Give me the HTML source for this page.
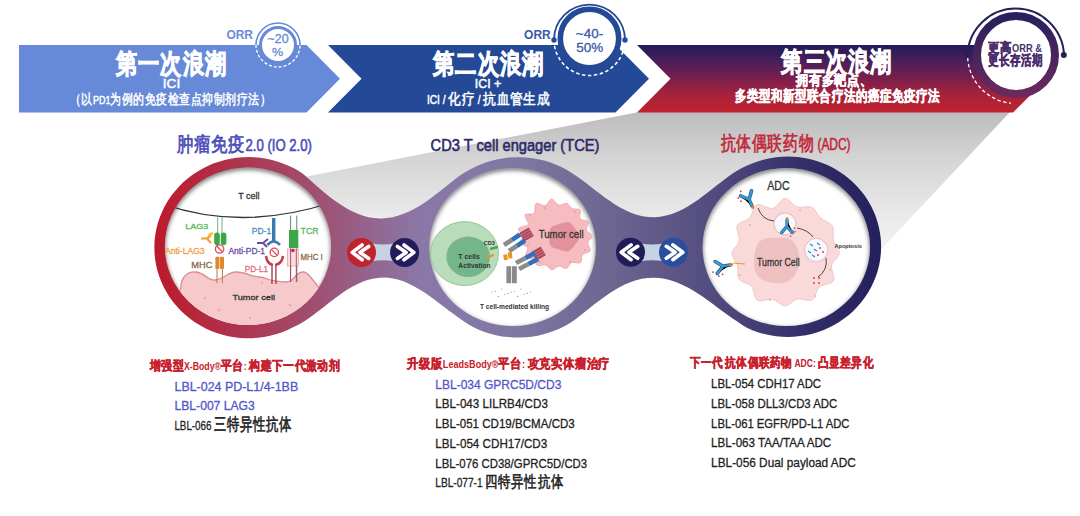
<!DOCTYPE html>
<html><head><meta charset="utf-8">
<style>
html,body{margin:0;padding:0;background:#fff;}
body{width:1080px;height:516px;overflow:hidden;position:relative;font-family:"Liberation Sans",sans-serif;}
svg{position:absolute;left:0;top:0;}
text{font-family:"Liberation Sans",sans-serif;}
</style></head><body>
<svg width="1080" height="516" viewBox="0 0 1080 516" xmlns="http://www.w3.org/2000/svg">
<defs>
  <linearGradient id="gGray" x1="0" y1="112" x2="0" y2="272" gradientUnits="userSpaceOnUse">
    <stop offset="0" stop-color="#bcbcbc"/>
    <stop offset="0.3" stop-color="#d5d5d5"/>
    <stop offset="0.675" stop-color="#ebebeb"/>
    <stop offset="1" stop-color="#f8f8f8"/>
  </linearGradient>
  <linearGradient id="gBand3" x1="0" y1="45" x2="0" y2="112" gradientUnits="userSpaceOnUse">
    <stop offset="0" stop-color="#221b5a"/>
    <stop offset="0.25" stop-color="#4a1f5a"/>
    <stop offset="0.5" stop-color="#7a1f4c"/>
    <stop offset="0.75" stop-color="#a8223a"/>
    <stop offset="1" stop-color="#c0222e"/>
  </linearGradient>
  <linearGradient id="gRing3" x1="0" y1="12" x2="0" y2="98" gradientUnits="userSpaceOnUse">
    <stop offset="0" stop-color="#251f5e"/>
    <stop offset="1" stop-color="#6d2a5e"/>
  </linearGradient>
  <linearGradient id="gDumb" x1="154" y1="0" x2="881" y2="0" gradientUnits="userSpaceOnUse">
    <stop offset="0" stop-color="#bc1a2a"/>
    <stop offset="0.13" stop-color="#ad3753"/>
    <stop offset="0.24" stop-color="#9d5478"/>
    <stop offset="0.367" stop-color="#8a78a8"/>
    <stop offset="0.5" stop-color="#7f78a3"/>
    <stop offset="0.63" stop-color="#6c6590"/>
    <stop offset="0.75" stop-color="#565082"/>
    <stop offset="0.886" stop-color="#35306a"/>
    <stop offset="1" stop-color="#22205e"/>
  </linearGradient>
  <filter id="fBlur2" x="-20%" y="-20%" width="140%" height="140%"><feGaussianBlur stdDeviation="2"/></filter>
  <filter id="fBlur3" x="-20%" y="-20%" width="140%" height="140%"><feGaussianBlur stdDeviation="3"/></filter>

  <clipPath id="cp1"><ellipse cx="248.0" cy="246.3" rx="83.1" ry="78.8"/></clipPath>
  <clipPath id="cp2"><ellipse cx="512.6" cy="247.1" rx="83.3" ry="79.0"/></clipPath>
  <clipPath id="cp3"><ellipse cx="786.3" cy="247.0" rx="83.7" ry="79.0"/></clipPath>
</defs>
<polygon points="639,112 1010,112 860,272 200,197.3" fill="url(#gGray)"/>
<polygon points="19,45 306.5,45 340,78.8 306.5,112.5 19,112.5" fill="#6689d8"/>
<polygon points="328,45 615.5,45 649,78.8 615.5,112.5 328,112.5 361.5,78.8" fill="#244a97"/>
<polygon points="637,45 1013,45 1047,78.8 1013,112.5 637,112.5 670.5,78.8" fill="url(#gBand3)"/>
<path d="M 299.7 171.5 L 304.4 175.1 L 308.9 179.1 L 313.4 183.1 L 317.9 187.0 L 322.5 190.9 L 327.1 194.8 L 331.8 198.4 L 336.7 202.0 L 341.7 205.3 L 346.8 208.4 L 352.1 211.3 L 357.6 213.7 L 363.2 215.7 L 369.0 217.2 L 374.9 218.1 L 380.9 218.4 L 386.8 218.1 L 392.8 217.2 L 398.6 215.6 L 404.2 213.6 L 409.7 211.2 L 415.0 208.5 L 420.2 205.4 L 425.2 202.2 L 430.1 198.7 L 434.9 195.1 L 439.7 191.5 L 444.4 187.7 L 449.1 184.0 L 453.7 180.2 L 458.5 176.5 L 463.5 173.2 L 468.6 170.2 L 473.9 167.4 L 479.4 164.9 L 485.0 162.7 L 490.7 160.9 L 496.5 159.5 L 502.4 158.4 L 508.4 157.6 L 514.3 157.2 L 520.3 157.2 L 526.3 157.5 L 532.3 158.2 L 538.2 159.2 L 544.0 160.6 L 549.8 162.3 L 555.4 164.4 L 560.9 166.8 L 566.2 169.6 L 571.4 172.7 L 576.3 176.0 L 581.2 179.5 L 586.0 183.1 L 590.8 186.8 L 595.5 190.4 L 600.3 194.1 L 605.1 197.7 L 610.0 201.1 L 615.0 204.4 L 620.2 207.5 L 625.5 210.3 L 630.9 212.7 L 636.6 214.7 L 642.4 216.2 L 648.3 217.0 L 654.3 217.2 L 660.3 216.8 L 666.1 215.6 L 671.9 214.0 L 677.5 211.8 L 682.9 209.2 L 688.1 206.2 L 693.2 203.0 L 698.1 199.7 L 703.0 196.1 L 707.7 192.5 L 712.5 188.8 L 717.2 185.1 L 721.9 181.4 L 726.7 177.7 L 731.5 174.2 L 736.5 170.9 L 741.8 168.0 L 747.2 165.5 L 752.7 163.2 L 758.4 161.2 L 764.2 159.5 L 770.0 158.2 L 775.9 157.3 L 781.9 156.8 L 787.9 156.6 L 793.9 156.8 L 799.9 157.3 L 805.8 158.3 L 811.6 159.6 L 817.4 161.2 L 823.0 163.3 L 828.5 165.6 L 833.9 168.3 L 839.1 171.4 L 844.0 174.8 L 848.7 178.5 L 853.2 182.5 L 857.4 186.7 L 861.3 191.3 L 865.0 196.0 L 868.2 201.1 L 871.2 206.3 L 873.8 211.7 L 876.0 217.3 L 877.8 223.0 L 879.2 228.8 L 880.3 234.7 L 880.9 240.7 L 881.1 246.7 L 880.9 252.7 L 880.3 258.6 L 879.3 264.5 L 877.8 270.4 L 876.0 276.1 L 873.8 281.6 L 871.2 287.1 L 868.3 292.3 L 865.0 297.3 L 861.4 302.1 L 857.5 306.6 L 853.3 310.9 L 848.9 314.9 L 844.1 318.6 L 839.2 322.0 L 834.0 325.1 L 828.7 327.8 L 823.2 330.2 L 817.5 332.2 L 811.8 333.9 L 805.9 335.2 L 800.0 336.1 L 794.0 336.7 L 788.0 336.9 L 782.1 336.7 L 776.1 336.2 L 770.2 335.3 L 764.3 334.0 L 758.5 332.4 L 752.9 330.4 L 747.4 328.0 L 742.2 325.0 L 737.3 321.6 L 732.3 318.3 L 727.4 314.8 L 722.5 311.2 L 717.7 307.7 L 712.9 304.1 L 708.1 300.5 L 703.2 297.1 L 698.2 293.7 L 693.1 290.5 L 687.9 287.6 L 682.5 284.9 L 677.0 282.5 L 671.4 280.5 L 665.6 279.0 L 659.7 278.0 L 653.7 277.7 L 647.7 277.9 L 641.8 278.8 L 636.0 280.2 L 630.3 282.2 L 624.8 284.5 L 619.5 287.3 L 614.3 290.3 L 609.2 293.5 L 604.3 296.9 L 599.5 300.5 L 594.7 304.1 L 590.0 307.8 L 585.3 311.6 L 580.6 315.3 L 575.9 319.0 L 570.9 322.4 L 565.8 325.5 L 560.4 328.2 L 554.9 330.6 L 549.3 332.6 L 543.5 334.3 L 537.7 335.7 L 531.8 336.7 L 525.8 337.3 L 519.8 337.6 L 513.8 337.6 L 507.9 337.1 L 501.9 336.4 L 496.0 335.2 L 490.2 333.7 L 484.5 331.9 L 478.9 329.7 L 473.5 327.2 L 468.2 324.3 L 463.2 321.0 L 458.4 317.4 L 453.6 313.9 L 448.7 310.4 L 443.9 306.8 L 439.1 303.2 L 434.3 299.6 L 429.5 296.0 L 424.5 292.6 L 419.5 289.4 L 414.3 286.4 L 408.9 283.7 L 403.4 281.3 L 397.7 279.5 L 391.9 278.2 L 385.9 277.6 L 380.0 277.7 L 374.0 278.4 L 368.2 279.8 L 362.6 281.8 L 357.1 284.2 L 351.8 287.0 L 346.6 290.1 L 341.6 293.4 L 336.8 296.9 L 332.0 300.5 L 327.2 304.2 L 322.5 307.9 L 317.8 311.6 L 313.0 315.2 L 308.1 318.7 L 303.1 322.0 L 297.9 324.9 L 292.5 327.6 L 287.1 330.2 L 281.5 332.4 L 275.8 334.3 L 270.0 335.8 L 264.1 336.9 L 258.2 337.7 L 252.2 338.2 L 246.2 338.2 L 240.2 337.9 L 234.3 337.2 L 228.4 336.2 L 222.5 334.7 L 216.8 333.0 L 211.2 330.9 L 205.7 328.4 L 200.4 325.6 L 195.3 322.4 L 190.4 319.0 L 185.8 315.2 L 181.3 311.2 L 177.2 306.8 L 173.3 302.2 L 169.8 297.4 L 166.6 292.3 L 163.7 287.1 L 161.2 281.6 L 159.1 276.0 L 157.3 270.3 L 156.0 264.4 L 155.0 258.5 L 154.5 252.6 L 154.4 246.6 L 154.6 240.6 L 155.3 234.6 L 156.4 228.7 L 157.9 222.9 L 159.8 217.2 L 162.1 211.7 L 164.7 206.3 L 167.7 201.1 L 171.1 196.1 L 174.7 191.4 L 178.7 186.9 L 182.9 182.6 L 187.4 178.7 L 192.2 175.0 L 197.2 171.7 L 202.4 168.7 L 207.7 166.0 L 213.2 163.6 L 218.9 161.7 L 224.7 160.0 L 230.5 158.7 L 236.4 157.8 L 242.4 157.3 L 248.4 157.1 L 254.4 157.3 L 260.4 157.8 L 266.3 158.8 L 272.2 160.0 L 277.9 161.7 L 283.6 163.7 L 289.1 166.0 L 294.5 168.6 Z" fill="url(#gDumb)"/>
<ellipse cx="248.0" cy="246.3" rx="83.1" ry="78.8" fill="#fff"/>
<g clip-path="url(#cp1)"><ellipse cx="248.0" cy="248.3" rx="85.6" ry="81.3" fill="none" stroke="#000" stroke-opacity="0.5" stroke-width="6" filter="url(#fBlur2)"/></g>
<ellipse cx="512.6" cy="247.1" rx="83.3" ry="79.0" fill="#fff"/>
<g clip-path="url(#cp2)"><ellipse cx="512.6" cy="249.1" rx="85.8" ry="81.5" fill="none" stroke="#000" stroke-opacity="0.5" stroke-width="6" filter="url(#fBlur2)"/></g>
<ellipse cx="786.3" cy="247.0" rx="83.7" ry="79.0" fill="#fff"/>
<g clip-path="url(#cp3)"><ellipse cx="786.3" cy="249.0" rx="86.2" ry="81.5" fill="none" stroke="#000" stroke-opacity="0.5" stroke-width="6" filter="url(#fBlur2)"/></g>
<g clip-path="url(#cp1)">
<path d="M 158 318 C 168 310 179 300 181 287 C 181 278 187 271 196 272 C 205 273 208 281 215 280 C 224 279 228 272 236 272 C 246 272 252 277 259 277 C 266 277 269 281 276 281 C 284 282 288 283 292 280 C 296 276 298 272 303 272 C 308 272 310 277 313 280 C 317 284 319 289 322 293 C 326 298 332 300 340 300 L 340 340 L 150 340 Z" fill="#f6c9cb" stroke="#d98d95" stroke-width="1.3"/>
<circle cx="205" cy="298" r="1.3" fill="#eea8ae"/>
<circle cx="219" cy="310" r="1.6" fill="#eea8ae"/>
<circle cx="262" cy="283" r="1.2" fill="#eea8ae"/>
<circle cx="290" cy="305" r="1.3" fill="#eea8ae"/>
<circle cx="250" cy="318" r="1.2" fill="#eea8ae"/>
<path d="M 160 203 Q 240 232 330 203" fill="none" stroke="#333" stroke-width="1.3"/>
<path d="M 217.7 216.5 V 234 M 222 216.8 V 234" stroke="#6aa27a" stroke-width="0.9"/>
<rect x="214.2" y="232.6" width="5.6" height="12.5" rx="2.8" fill="#3aa845"/><rect x="220.8" y="232.6" width="5.6" height="12.5" rx="2.8" fill="#3aa845"/>
<path d="M 201 238.5 H 207 M 207 238.5 L 211 235.5 M 207 238.5 L 211 243" stroke="#f0a030" stroke-width="2.2"/>
<rect x="208" y="233" width="5" height="3" fill="#f5c040" transform="rotate(-30 210 234)"/>
<circle cx="219.6" cy="249" r="4.2" fill="none" stroke="#e04a55" stroke-width="1.3"/><path d="M 216.6 246 L 222.6 252" stroke="#e04a55" stroke-width="1.3"/>
<circle cx="274.3" cy="252.4" r="4.2" fill="none" stroke="#e04a55" stroke-width="1.3"/><path d="M 271.3 249.4 L 277.3 255.4" stroke="#e04a55" stroke-width="1.3"/>
<path d="M 217 269 V 283 M 222.4 269 V 283" stroke="#b87a40" stroke-width="1"/>
<rect x="215.4" y="256.7" width="4" height="12.4" rx="1" fill="#e0882e"/><rect x="220" y="256.7" width="4" height="12.4" rx="1" fill="#e0882e"/>
<rect x="272" y="218" width="3.4" height="24" fill="#3a7ab0"/><path d="M 267.3 245 Q 273.7 238 280 245" fill="none" stroke="#3a7ab0" stroke-width="2.6"/>
<path d="M 257 243 H 263 M 263 243 L 268 239 M 263 243 L 267 247" stroke="#6a48a8" stroke-width="2"/>
<path d="M 272 264 V 284 M 275.9 264 V 284" stroke="#a83040" stroke-width="1.3"/>
<path d="M 266 256 Q 267 264 273 265 M 283 256 Q 282 264 275 265" fill="none" stroke="#c04050" stroke-width="2.6"/>
<path d="M 290.6 215.6 V 282 M 296.8 215.6 V 282" stroke="#4a7a6a" stroke-width="0.9"/>
<rect x="289" y="230" width="9.3" height="18" fill="#3aa845"/>
<rect x="287.5" y="249" width="10.8" height="17" fill="#fbe0e2" stroke="#e8a0a8" stroke-width="0.8"/>
<path d="M 290.6 249 V 282 M 296.3 249 V 282" stroke="#b04050" stroke-width="0.9"/>
<circle cx="292.9" cy="250.5" r="1.8" fill="#c0207a"/>
</g>
<text x="238.29" y="199.00" font-size="9.01" font-weight="normal" fill="#333333" textLength="21.32" lengthAdjust="spacingAndGlyphs"  stroke="#333333" stroke-width="0.30">T cell</text>
<text x="185.22" y="229.00" font-size="7.56" font-weight="normal" fill="#5cb85c" textLength="23.06" lengthAdjust="spacingAndGlyphs"  stroke="#5cb85c" stroke-width="0.30">LAG3</text>
<text x="251.83" y="233.60" font-size="8.58" font-weight="normal" fill="#4a8fc6" textLength="19.34" lengthAdjust="spacingAndGlyphs"  stroke="#4a8fc6" stroke-width="0.30">PD-1</text>
<text x="300.59" y="233.60" font-size="9.01" font-weight="normal" fill="#5cb85c" textLength="17.92" lengthAdjust="spacingAndGlyphs"  stroke="#5cb85c" stroke-width="0.30">TCR</text>
<text x="164.99" y="254.40" font-size="9.01" font-weight="normal" fill="#f0a040" textLength="39.62" lengthAdjust="spacingAndGlyphs"  stroke="#f0a040" stroke-width="0.30">Anti-LAG3</text>
<text x="228.49" y="254.40" font-size="9.01" font-weight="normal" fill="#6a4aa8" textLength="36.52" lengthAdjust="spacingAndGlyphs"  stroke="#6a4aa8" stroke-width="0.30">Anti-PD-1</text>
<text x="191.29" y="268.30" font-size="9.01" font-weight="normal" fill="#8b6a4a" textLength="21.02" lengthAdjust="spacingAndGlyphs"  stroke="#8b6a4a" stroke-width="0.30">MHC</text>
<text x="244.79" y="272.20" font-size="9.01" font-weight="normal" fill="#e07080" textLength="23.32" lengthAdjust="spacingAndGlyphs"  stroke="#e07080" stroke-width="0.30">PD-L1</text>
<text x="300.59" y="259.80" font-size="9.01" font-weight="normal" fill="#8b6a4a" textLength="22.22" lengthAdjust="spacingAndGlyphs"  stroke="#8b6a4a" stroke-width="0.30">MHC I</text>
<text x="232.49" y="300.10" font-size="7.85" font-weight="normal" fill="#333333" textLength="42.51" lengthAdjust="spacingAndGlyphs"  stroke="#333333" stroke-width="0.30">Tumor cell</text>
<g clip-path="url(#cp2)">
<ellipse cx="464.5" cy="253.6" rx="34" ry="32" fill="#b9dcba" stroke="#86c089" stroke-width="0.8"/>
<ellipse cx="468.2" cy="256.8" rx="21.8" ry="20.2" fill="#74b58a"/>
<path d="M 592.1 236.0 C 592.4 238.1 588.2 240.1 587.8 242.6 C 587.5 245.0 591.0 248.8 590.1 250.8 C 589.2 252.8 584.1 252.8 582.5 254.7 C 580.9 256.7 582.4 261.4 580.6 262.7 C 578.7 264.0 574.0 261.7 571.6 262.6 C 569.3 263.6 568.6 267.8 566.5 268.4 C 564.4 269.0 561.3 265.8 558.8 266.0 C 556.4 266.2 554.0 270.0 551.8 269.8 C 549.6 269.6 548.0 265.7 545.6 265.0 C 543.3 264.3 539.8 266.4 537.7 265.5 C 535.6 264.7 535.2 261.1 533.2 259.6 C 531.2 258.2 526.5 258.8 525.6 256.9 C 524.6 254.9 528.6 250.1 527.7 247.8 C 526.9 245.5 521.3 245.1 520.5 243.1 C 519.6 241.2 523.0 238.4 522.7 236.0 C 522.4 233.6 517.6 230.4 518.5 228.5 C 519.4 226.5 527.1 226.7 528.1 224.4 C 529.2 222.2 524.1 216.6 525.1 214.8 C 526.1 212.9 532.2 215.2 534.0 213.3 C 535.8 211.4 534.1 204.7 535.9 203.4 C 537.8 202.1 542.6 206.3 545.2 205.6 C 547.7 204.9 549.2 199.1 551.5 199.0 C 553.7 198.9 556.4 204.4 558.9 205.1 C 561.4 205.9 564.4 202.7 566.6 203.3 C 568.8 203.8 569.9 207.4 572.1 208.5 C 574.3 209.7 578.6 208.2 580.0 210.0 C 581.3 211.7 578.7 217.0 580.1 219.0 C 581.6 221.0 587.4 220.1 588.4 221.9 C 589.4 223.7 585.6 227.4 586.2 229.8 C 586.8 232.1 591.8 233.9 592.1 236.0 Z" fill="#f6bcc0" stroke="#eaa2aa" stroke-width="0.8"/>
<path d="M 579.5 236.7 C 579.5 239.4 576.8 242.2 575.0 244.6 C 573.2 247.1 571.2 250.6 568.6 251.4 C 566.0 252.2 562.4 250.4 559.4 249.5 C 556.4 248.6 552.4 248.0 550.7 245.9 C 549.0 243.7 549.4 239.7 549.4 236.7 C 549.5 233.7 549.3 229.9 551.0 227.8 C 552.7 225.7 556.5 225.0 559.4 224.1 C 562.4 223.1 566.0 221.3 568.6 222.1 C 571.2 222.9 573.3 226.2 575.2 228.7 C 577.0 231.1 579.6 234.0 579.5 236.7 Z" fill="#e1929a"/>
<circle cx="530" cy="215" r="0.8" fill="#d98890"/>
<circle cx="545" cy="208" r="0.8" fill="#d98890"/>
<circle cx="575" cy="212" r="0.8" fill="#d98890"/>
<circle cx="585" cy="250" r="0.8" fill="#d98890"/>
<circle cx="540" cy="262" r="0.8" fill="#d98890"/>
<circle cx="570" cy="262" r="0.8" fill="#d98890"/>
<circle cx="528" cy="245" r="0.8" fill="#d98890"/>
<g transform="rotate(-30 526.5 234.4)"><rect x="521" y="229.5" width="11" height="10" fill="#a8485a"/><path d="M 521 232 H 532 M 521 234.5 H 532 M 521 237 H 532" stroke="#d88090" stroke-width="0.7"/></g>
<g transform="rotate(-30 538.5 253.7)"><rect x="533" y="248.7" width="11" height="10" fill="#a8485a"/><path d="M 533 251.2 H 544 M 533 253.7 H 544 M 533 256.2 H 544" stroke="#d88090" stroke-width="0.7"/></g>
<path d="M 504 245 L 512.0 239.8" stroke="#8c8c8c" stroke-width="4.6"/><path d="M 512.0 239.8 L 520 234.5" stroke="#2f6fc0" stroke-width="4.6"/>
<path d="M 509 251 L 517.0 245.8" stroke="#8c8c8c" stroke-width="4.6"/><path d="M 517.0 245.8 L 525 240.5" stroke="#2f6fc0" stroke-width="4.6"/>
<path d="M 516 263 L 525.5 258.0" stroke="#8c8c8c" stroke-width="4.6"/><path d="M 525.5 258.0 L 535 253" stroke="#2f6fc0" stroke-width="4.6"/>
<path d="M 519 269 L 528.5 264.0" stroke="#8c8c8c" stroke-width="4.6"/><path d="M 528.5 264.0 L 538 259" stroke="#2f6fc0" stroke-width="4.6"/>
<path d="M 505.2 254.5 L 506 260 M 509.8 252.2 L 510.5 258.4" stroke="#e8961e" stroke-width="4"/>
<rect x="506.4" y="266.2" width="4.6" height="17" fill="#8a8a8a"/><rect x="511.8" y="266.2" width="5" height="17" fill="#8a8a8a"/>
<path d="M 490 249 L 498 247" stroke="#4aa84a" stroke-width="2.5"/><path d="M 487 257 L 494 255" stroke="#e8961e" stroke-width="2"/>
<g fill="#5a8ac8"><circle cx="492.0" cy="292.0" r="0.55"/><circle cx="495.2" cy="291.2" r="0.55"/><circle cx="498.4" cy="296.4" r="0.55"/><circle cx="501.6" cy="289.0" r="0.55"/><circle cx="504.8" cy="294.2" r="0.55"/><circle cx="508.0" cy="293.4" r="0.55"/><circle cx="511.2" cy="292.0" r="0.55"/><circle cx="514.4" cy="291.2" r="0.55"/><circle cx="517.6" cy="296.4" r="0.55"/><circle cx="520.8" cy="289.0" r="0.55"/><circle cx="524.0" cy="294.2" r="0.55"/><circle cx="527.2" cy="293.4" r="0.55"/><circle cx="530.4" cy="292.0" r="0.55"/></g>
</g>
<text x="458.35" y="259.30" font-size="7.27" font-weight="bold" fill="#333333" textLength="21.51" lengthAdjust="spacingAndGlyphs" >T cells</text>
<text x="458.35" y="268.10" font-size="7.27" font-weight="bold" fill="#333333" textLength="32.31" lengthAdjust="spacingAndGlyphs" >Activation</text>
<text x="483.77" y="245.00" font-size="4.80" font-weight="bold" fill="#333333" textLength="10.96" lengthAdjust="spacingAndGlyphs" >CD3</text>
<text x="538.64" y="238.40" font-size="11.77" font-weight="normal" fill="#333333" textLength="44.92" lengthAdjust="spacingAndGlyphs"  stroke="#333333" stroke-width="0.30">Tumor cell</text>
<text x="479.91" y="309.20" font-size="6.54" font-weight="bold" fill="#333333" textLength="69.18" lengthAdjust="spacingAndGlyphs" >T cell-mediated killing</text>
<g clip-path="url(#cp3)">
<path d="M 839.3 253.0 C 839.0 257.2 832.6 260.7 831.6 265.4 C 830.7 270.0 835.6 277.2 833.5 280.8 C 831.5 284.4 822.9 283.9 819.4 287.0 C 815.8 290.2 815.9 297.8 812.3 299.8 C 808.6 301.8 802.0 298.0 797.5 299.1 C 792.9 300.1 789.2 305.8 785.0 305.9 C 780.8 305.9 777.0 300.3 772.5 299.3 C 767.9 298.4 761.0 302.4 757.5 300.2 C 754.0 298.0 754.5 289.7 751.5 286.2 C 748.4 282.7 741.4 282.7 739.1 279.3 C 736.7 275.8 738.7 270.0 737.5 265.6 C 736.3 261.2 731.7 257.1 732.0 253.0 C 732.3 248.9 738.4 245.4 739.2 240.9 C 740.1 236.3 735.5 229.5 737.2 225.7 C 738.9 221.8 746.3 221.4 749.5 217.9 C 752.8 214.4 753.0 206.3 756.9 204.7 C 760.8 203.1 768.2 209.3 772.9 208.3 C 777.6 207.2 780.9 198.6 785.0 198.4 C 789.1 198.2 793.0 205.6 797.4 207.0 C 801.9 208.5 807.8 205.5 811.6 207.3 C 815.5 209.1 817.1 214.7 820.5 217.8 C 824.0 220.9 830.1 222.2 832.3 225.9 C 834.4 229.7 832.2 235.7 833.4 240.2 C 834.6 244.7 839.6 248.8 839.3 253.0 Z" fill="#f9d9d9" stroke="#f0bebe" stroke-width="0.8"/>
<path d="M 757 246 C 760 236 776 237 786 238 C 796 240 800 250 799 262 C 798 276 790 284 776 283 C 762 283 754 276 754 263 C 754 255 755 250 757 246 Z" fill="#eec0c0"/>
<circle cx="750" cy="225" r="0.9" fill="#eaa8ae"/>
<circle cx="770" cy="300" r="0.9" fill="#eaa8ae"/>
<circle cx="815" cy="296" r="0.9" fill="#eaa8ae"/>
<circle cx="830" cy="270" r="0.9" fill="#eaa8ae"/>
<circle cx="740" cy="275" r="0.9" fill="#eaa8ae"/>
<circle cx="800" cy="210" r="0.9" fill="#eaa8ae"/>
<circle cx="785" cy="223.8" r="11" fill="#f4fafd" stroke="#f0c0c4" stroke-width="1.2"/>
<circle cx="816.2" cy="250" r="11.5" fill="#f4fafd" stroke="#f0c0c4" stroke-width="1.2"/>
<g transform="translate(752 206) rotate(-25) scale(1.0)"><g stroke="#1f5f8f" stroke-width="3.6" stroke-linecap="round"><path d="M 0 0 V -7 L -6 -14 M 0 -7 L 6 -14"/></g><g stroke="#3d9ad0" stroke-width="2.2" stroke-linecap="round"><path d="M 0 0 V -7 L -6 -14 M 0 -7 L 6 -14"/></g><circle cx="0" cy="1.5" r="1.6" fill="#e8801e"/><g fill="#e03030"><circle cx="-9" cy="-13" r="0.9"/><circle cx="-8" cy="-9" r="0.9"/><circle cx="-4" cy="-18" r="0.9"/></g></g>
<g transform="translate(730 265) rotate(-100) scale(1.0)"><g stroke="#1f5f8f" stroke-width="3.6" stroke-linecap="round"><path d="M 0 0 V -7 L -6 -14 M 0 -7 L 6 -14"/></g><g stroke="#3d9ad0" stroke-width="2.2" stroke-linecap="round"><path d="M 0 0 V -7 L -6 -14 M 0 -7 L 6 -14"/></g><circle cx="0" cy="1.5" r="1.6" fill="#e8801e"/><g fill="#e03030"><circle cx="-9" cy="-13" r="0.9"/><circle cx="-8" cy="-9" r="0.9"/><circle cx="-4" cy="-18" r="0.9"/></g></g>
<g transform="translate(787 220) rotate(180) scale(0.9)"><g stroke="#1f5f8f" stroke-width="3.6" stroke-linecap="round"><path d="M 0 0 V -7 L -6 -14 M 0 -7 L 6 -14"/></g><g stroke="#3d9ad0" stroke-width="2.2" stroke-linecap="round"><path d="M 0 0 V -7 L -6 -14 M 0 -7 L 6 -14"/></g><circle cx="0" cy="1.5" r="1.6" fill="#e8801e"/><g fill="#e03030"><circle cx="-9" cy="-13" r="0.9"/><circle cx="-8" cy="-9" r="0.9"/><circle cx="-4" cy="-18" r="0.9"/></g></g>
<g stroke="#3a8ac8" stroke-width="1.3"><path d="M 810 244 l 3 2"/><path d="M 814 249 l 3 2"/><path d="M 808 251 l 3 2"/><path d="M 817 243 l 3 2"/><path d="M 812 255 l 3 2"/></g>
<g fill="#e03030"><circle cx="820" cy="248" r="0.9"/><circle cx="823" cy="252" r="0.9"/><circle cx="818" cy="255" r="0.9"/><circle cx="814" cy="278" r="0.9"/><circle cx="819" cy="278" r="0.9"/><circle cx="814" cy="283" r="0.9"/><circle cx="819" cy="283" r="0.9"/></g>
<path d="M 758 208 Q 762 220 774 221" fill="none" stroke="#222" stroke-width="0.8"/>
<path d="M 797 228 Q 808 230 813 237" fill="none" stroke="#222" stroke-width="0.8"/>
<path d="M 826 258 Q 828 270 818 277" fill="none" stroke="#222" stroke-width="0.8"/>
<path d="M 733 263 L 745 264" fill="none" stroke="#e8961e" stroke-width="1"/>
</g>
<text x="767.13" y="189.80" font-size="11.92" font-weight="normal" fill="#333333" textLength="22.45" lengthAdjust="spacingAndGlyphs"  stroke="#333333" stroke-width="0.30">ADC</text>
<text x="757.05" y="266.00" font-size="10.61" font-weight="normal" fill="#333333" textLength="42.61" lengthAdjust="spacingAndGlyphs"  stroke="#333333" stroke-width="0.30">Tumor Cell</text>
<text x="834.50" y="248.00" font-size="5.52" font-weight="bold" fill="#333333" textLength="27.29" lengthAdjust="spacingAndGlyphs" >Apoptosis</text>
<path d="M 371.5 243.5 Q 383.05 245.5 394.6 243.5 L 394.6 261.3 Q 383.05 259.3 371.5 261.3 Z" fill="#c6d3e3"/>
<circle cx="361.5" cy="252.4" r="14.5" fill="#c0232c"/>
<circle cx="404.6" cy="252.4" r="14.5" fill="#221d5a"/>
<path d="M 362.1 245.0 L 352.2 252.4 L 362.1 259.8" fill="none" stroke="#fff" stroke-width="3.6" stroke-linecap="round" stroke-linejoin="round"/><path d="M 368.7 246.4 L 359.9 252.4 L 368.7 258.4" fill="none" stroke="#fff" stroke-width="3.6" stroke-linecap="round" stroke-linejoin="round"/>
<path d="M 404.0 245.0 L 413.9 252.4 L 404.0 259.8" fill="none" stroke="#fff" stroke-width="3.6" stroke-linecap="round" stroke-linejoin="round"/><path d="M 397.4 246.4 L 406.2 252.4 L 397.4 258.4" fill="none" stroke="#fff" stroke-width="3.6" stroke-linecap="round" stroke-linejoin="round"/>
<path d="M 640.5 243.5 Q 652.0 245.5 663.5 243.5 L 663.5 261.3 Q 652.0 259.3 640.5 261.3 Z" fill="#c6d3e3"/>
<circle cx="630.5" cy="252.3" r="14.5" fill="#211c59"/>
<circle cx="673.5" cy="252.3" r="14.5" fill="#2a4d9e"/>
<path d="M 631.1 244.9 L 621.2 252.3 L 631.1 259.7" fill="none" stroke="#fff" stroke-width="3.6" stroke-linecap="round" stroke-linejoin="round"/><path d="M 637.7 246.3 L 628.9 252.3 L 637.7 258.3" fill="none" stroke="#fff" stroke-width="3.6" stroke-linecap="round" stroke-linejoin="round"/>
<path d="M 672.9 244.9 L 682.8 252.3 L 672.9 259.7" fill="none" stroke="#fff" stroke-width="3.6" stroke-linecap="round" stroke-linejoin="round"/><path d="M 666.3 246.3 L 675.1 252.3 L 666.3 258.3" fill="none" stroke="#fff" stroke-width="3.6" stroke-linecap="round" stroke-linejoin="round"/>
<path d="M 256 45 A 22 22 0 0 1 300 45" fill="none" stroke="#6689d8" stroke-width="1.6"/>
<path d="M 256 45 A 22 22 0 0 0 300 45" fill="none" stroke="#fff" stroke-width="1.3" stroke-dasharray="3 2"/>
<circle cx="278" cy="45" r="17.5" fill="#fff" stroke="#6689d8" stroke-width="3"/>
<text x="226.40" y="38.80" font-size="12.21" font-weight="bold" fill="#6a8bd8" textLength="26.60" lengthAdjust="spacingAndGlyphs" >ORR</text>
<text x="267.43" y="42.60" font-size="11.92" font-weight="normal" fill="#6a8bd8" textLength="21.15" lengthAdjust="spacingAndGlyphs"  stroke="#6a8bd8" stroke-width="0.30">~20</text>
<text x="271.94" y="56.10" font-size="11.77" font-weight="normal" fill="#6a8bd8" textLength="11.12" lengthAdjust="spacingAndGlyphs"  stroke="#6a8bd8" stroke-width="0.30">%</text>
<path d="M 554 40 A 35.5 35.5 0 0 1 625 40" fill="none" stroke="#244a97" stroke-width="1.8"/>
<path d="M 554 40 A 35.5 35.5 0 0 0 625 40" fill="none" stroke="#fff" stroke-width="1.5" stroke-dasharray="3.5 2.5"/>
<circle cx="554" cy="40" r="2.7" fill="#244a97"/>
<circle cx="625" cy="40" r="2.7" fill="#244a97"/>
<circle cx="589.5" cy="38.5" r="29.2" fill="#fff" stroke="#244a97" stroke-width="5.6"/>
<text x="524.13" y="38.70" font-size="11.92" font-weight="bold" fill="#3b5aa8" textLength="26.65" lengthAdjust="spacingAndGlyphs" >ORR</text>
<text x="575.86" y="37.50" font-size="12.65" font-weight="normal" fill="#3b5aa8" textLength="27.28" lengthAdjust="spacingAndGlyphs"  stroke="#3b5aa8" stroke-width="0.30">~40-</text>
<text x="576.28" y="52.00" font-size="13.52" font-weight="normal" fill="#3b5aa8" textLength="26.93" lengthAdjust="spacingAndGlyphs"  stroke="#3b5aa8" stroke-width="0.30">50%</text>
<path d="M 967.5 54.7 A 48.3 48.3 0 0 1 1064 54.7" fill="none" stroke="#251f5e" stroke-width="2"/>
<circle cx="967.8" cy="54.7" r="3" fill="#251f5e"/>
<circle cx="1063.8" cy="54.9" r="3" fill="#251f5e"/>
<path d="M 967.7 58 A 48.3 48.3 0 0 0 1011 103.2" fill="none" stroke="#fff" stroke-width="1.3" stroke-dasharray="3.5 2.5"/>
<circle cx="1016" cy="55" r="39" fill="#fff" stroke="url(#gRing3)" stroke-width="8"/>
<text x="987.85" y="52.30" font-size="10.50" font-weight="bold" fill="#4a2d6c" textLength="54.09" lengthAdjust="spacingAndGlyphs" ><tspan font-size="13.12" letter-spacing="0.66" stroke="#4a2d6c" stroke-width="0.47">更高</tspan>ORR &amp;</text>
<text x="987.81" y="65.00" font-size="11.00" font-weight="bold" fill="#4a2d6c" textLength="55.18" lengthAdjust="spacingAndGlyphs" ><tspan font-size="13.75" letter-spacing="0.69" stroke="#4a2d6c" stroke-width="0.49">更长存活期</tspan></text>
<text x="116.06" y="72.50" font-size="21.50" font-weight="bold" fill="#ffffff" textLength="110.87" lengthAdjust="spacingAndGlyphs" ><tspan font-size="26.88" letter-spacing="1.34" stroke="#ffffff" stroke-width="0.97">第一次浪潮</tspan></text>
<text x="162.78" y="88.30" font-size="13.52" font-weight="normal" fill="#ffffff" textLength="17.43" lengthAdjust="spacingAndGlyphs"  stroke="#ffffff" stroke-width="0.50">ICI</text>
<text x="69.97" y="104.00" font-size="11.50" font-weight="normal" fill="#ffffff" textLength="201.07" lengthAdjust="spacingAndGlyphs"  stroke="#ffffff" stroke-width="0.50"><tspan font-size="14.38" letter-spacing="0.72" stroke="#ffffff" stroke-width="0.52">（以</tspan>PD1<tspan font-size="14.38" letter-spacing="0.72" stroke="#ffffff" stroke-width="0.52">为例的免疫检查点抑制剂疗法）</tspan></text>
<text x="433.06" y="72.50" font-size="21.50" font-weight="bold" fill="#ffffff" textLength="111.57" lengthAdjust="spacingAndGlyphs" ><tspan font-size="26.88" letter-spacing="1.34" stroke="#ffffff" stroke-width="0.97">第二次浪潮</tspan></text>
<text x="474.82" y="88.00" font-size="13.08" font-weight="normal" fill="#ffffff" textLength="26.35" lengthAdjust="spacingAndGlyphs"  stroke="#ffffff" stroke-width="0.50">ICI +</text>
<text x="426.92" y="103.50" font-size="12.00" font-weight="normal" fill="#ffffff" textLength="123.16" lengthAdjust="spacingAndGlyphs"  stroke="#ffffff" stroke-width="0.50">ICI / <tspan font-size="15.00" letter-spacing="0.75" stroke="#ffffff" stroke-width="0.54">化疗</tspan> / <tspan font-size="15.00" letter-spacing="0.75" stroke="#ffffff" stroke-width="0.54">抗血管生成</tspan></text>
<text x="781.47" y="71.00" font-size="21.50" font-weight="bold" fill="#ffffff" textLength="111.07" lengthAdjust="spacingAndGlyphs" ><tspan font-size="26.88" letter-spacing="1.34" stroke="#ffffff" stroke-width="0.97">第三次浪潮</tspan></text>
<text x="795.87" y="84.80" font-size="11.50" font-weight="bold" fill="#ffffff" textLength="77.17" lengthAdjust="spacingAndGlyphs" ><tspan font-size="14.38" letter-spacing="0.72" stroke="#ffffff" stroke-width="0.52">拥有多靶点、</tspan></text>
<text x="734.62" y="101.00" font-size="12.00" font-weight="bold" fill="#ffffff" textLength="205.96" lengthAdjust="spacingAndGlyphs" ><tspan font-size="15.00" letter-spacing="0.75" stroke="#ffffff" stroke-width="0.54">多类型和新型联合疗法的癌症免疫疗法</tspan></text>
<text x="176.56" y="150.50" font-size="15.99" font-weight="normal" fill="#4b4db8" textLength="135.38" lengthAdjust="spacingAndGlyphs"  stroke="#4b4db8" stroke-width="0.60"><tspan font-size="19.99" letter-spacing="1.00" stroke="#4b4db8" stroke-width="0.72">肿瘤免疫</tspan>2.0 (IO 2.0)</text>
<text x="430.56" y="150.50" font-size="15.99" font-weight="normal" fill="#2e2b6a" textLength="168.88" lengthAdjust="spacingAndGlyphs"  stroke="#2e2b6a" stroke-width="0.60">CD3 T cell engager (TCE)</text>
<text x="720.56" y="149.50" font-size="15.99" font-weight="normal" fill="#c3283a" textLength="129.88" lengthAdjust="spacingAndGlyphs"  stroke="#c3283a" stroke-width="0.60"><tspan font-size="19.99" letter-spacing="1.00" stroke="#c3283a" stroke-width="0.72">抗体偶联药物</tspan> (ADC)</text>
<text x="149.75" y="370.00" font-size="10.50" font-weight="bold" fill="#c8202c" textLength="190.49" lengthAdjust="spacingAndGlyphs" ><tspan font-size="13.12" letter-spacing="0.66" stroke="#c8202c" stroke-width="0.47">增强型</tspan>X-Body®<tspan font-size="13.12" letter-spacing="0.66" stroke="#c8202c" stroke-width="0.47">平台</tspan>: <tspan font-size="13.12" letter-spacing="0.66" stroke="#c8202c" stroke-width="0.47">构建下一代激动剂</tspan></text>
<text x="174.50" y="390.60" font-size="12.21" font-weight="normal" fill="#5457c9" textLength="123.70" lengthAdjust="spacingAndGlyphs"  stroke="#5457c9" stroke-width="0.30">LBL-024 PD-L1/4-1BB</text>
<text x="174.51" y="410.00" font-size="12.06" font-weight="normal" fill="#5457c9" textLength="80.27" lengthAdjust="spacingAndGlyphs"  stroke="#5457c9" stroke-width="0.30">LBL-007 LAG3</text>
<text x="174.38" y="430.40" font-size="13.52" font-weight="normal" fill="#222222" textLength="117.53" lengthAdjust="spacingAndGlyphs"  stroke="#222222" stroke-width="0.30">LBL-066 <tspan font-size="16.90" letter-spacing="0.84" stroke="#222222" stroke-width="0.61">三特异性抗体</tspan></text>
<text x="407.45" y="368.10" font-size="10.50" font-weight="bold" fill="#c8202c" textLength="202.79" lengthAdjust="spacingAndGlyphs" ><tspan font-size="13.12" letter-spacing="0.66" stroke="#c8202c" stroke-width="0.47">升级版</tspan>LeadsBody®<tspan font-size="13.12" letter-spacing="0.66" stroke="#c8202c" stroke-width="0.47">平台</tspan>: <tspan font-size="13.12" letter-spacing="0.66" stroke="#c8202c" stroke-width="0.47">攻克实体瘤治疗</tspan></text>
<text x="435.32" y="388.80" font-size="13.08" font-weight="normal" fill="#5457c9" textLength="126.05" lengthAdjust="spacingAndGlyphs"  stroke="#5457c9" stroke-width="0.30">LBL-034 GPRC5D/CD3</text>
<text x="435.32" y="408.48" font-size="13.08" font-weight="normal" fill="#222222" textLength="112.55" lengthAdjust="spacingAndGlyphs"  stroke="#222222" stroke-width="0.30">LBL-043 LILRB4/CD3</text>
<text x="435.32" y="428.16" font-size="13.08" font-weight="normal" fill="#222222" textLength="139.45" lengthAdjust="spacingAndGlyphs"  stroke="#222222" stroke-width="0.30">LBL-051 CD19/BCMA/CD3</text>
<text x="435.32" y="447.84" font-size="13.08" font-weight="normal" fill="#222222" textLength="111.95" lengthAdjust="spacingAndGlyphs"  stroke="#222222" stroke-width="0.30">LBL-054 CDH17/CD3</text>
<text x="435.32" y="467.52" font-size="13.08" font-weight="normal" fill="#222222" textLength="151.85" lengthAdjust="spacingAndGlyphs"  stroke="#222222" stroke-width="0.30">LBL-076 CD38/GPRC5D/CD3</text>
<text x="435.32" y="487.20" font-size="13.08" font-weight="normal" fill="#222222" textLength="128.25" lengthAdjust="spacingAndGlyphs"  stroke="#222222" stroke-width="0.30">LBL-077-1 <tspan font-size="16.35" letter-spacing="0.82" stroke="#222222" stroke-width="0.59">四特异性抗体</tspan></text>
<text x="689.65" y="367.30" font-size="10.50" font-weight="bold" fill="#c8202c" textLength="184.09" lengthAdjust="spacingAndGlyphs" ><tspan font-size="13.12" letter-spacing="0.66" stroke="#c8202c" stroke-width="0.47">下一代</tspan> <tspan font-size="13.12" letter-spacing="0.66" stroke="#c8202c" stroke-width="0.47">抗体偶联药物</tspan> ADC: <tspan font-size="13.12" letter-spacing="0.66" stroke="#c8202c" stroke-width="0.47">凸显差异化</tspan></text>
<text x="711.12" y="388.30" font-size="13.08" font-weight="normal" fill="#222222" textLength="109.95" lengthAdjust="spacingAndGlyphs"  stroke="#222222" stroke-width="0.30">LBL-054 CDH17 ADC</text>
<text x="711.12" y="408.02" font-size="13.08" font-weight="normal" fill="#222222" textLength="126.25" lengthAdjust="spacingAndGlyphs"  stroke="#222222" stroke-width="0.30">LBL-058 DLL3/CD3 ADC</text>
<text x="711.12" y="427.74" font-size="13.08" font-weight="normal" fill="#222222" textLength="138.35" lengthAdjust="spacingAndGlyphs"  stroke="#222222" stroke-width="0.30">LBL-061 EGFR/PD-L1 ADC</text>
<text x="711.12" y="447.46" font-size="13.08" font-weight="normal" fill="#222222" textLength="120.05" lengthAdjust="spacingAndGlyphs"  stroke="#222222" stroke-width="0.30">LBL-063 TAA/TAA ADC</text>
<text x="711.12" y="467.18" font-size="13.08" font-weight="normal" fill="#222222" textLength="144.65" lengthAdjust="spacingAndGlyphs"  stroke="#222222" stroke-width="0.30">LBL-056 Dual payload ADC</text>
</svg>
</body></html>
